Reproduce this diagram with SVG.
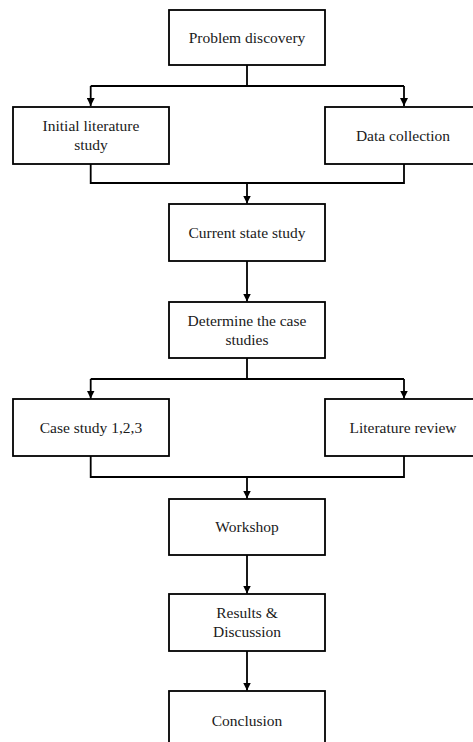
<svg xmlns="http://www.w3.org/2000/svg" width="473" height="742" viewBox="0 0 473 742">
<defs>
<style>
.box{fill:#fff;stroke:#000;stroke-width:1.8}
.ln{fill:none;stroke:#000;stroke-width:1.8}
.t{font-family:'Liberation Serif','Times New Roman','DejaVu Serif',serif;font-size:15.5px;fill:#1a1a1a;text-anchor:middle}
</style>
<marker id="ah" markerWidth="8" markerHeight="8" viewBox="0 0 8 8" refX="8" refY="4" orient="auto" markerUnits="userSpaceOnUse">
<path d="M0,0 L8,4 L0,8 Z" fill="#000"/>
</marker>
</defs>
<rect width="473" height="742" fill="#fff"/>
<g id="connectors">
<path class="ln" d="M247,65 V86 M90.7,86 H404"/>
<path class="ln" d="M90.7,86 V106" marker-end="url(#ah)"/>
<path class="ln" d="M404,86 V106" marker-end="url(#ah)"/>
<path class="ln" d="M90.7,164 V183 H404 V164"/>
<path class="ln" d="M247,183 V203.5" marker-end="url(#ah)"/>
<path class="ln" d="M247,261 V301.5" marker-end="url(#ah)"/>
<path class="ln" d="M247,358 V379 M90.7,379 H404"/>
<path class="ln" d="M90.7,379 V398.5" marker-end="url(#ah)"/>
<path class="ln" d="M404,379 V398.5" marker-end="url(#ah)"/>
<path class="ln" d="M90.7,456 V477 H404 V456"/>
<path class="ln" d="M247,477 V498.5" marker-end="url(#ah)"/>
<path class="ln" d="M247,555 V593.5" marker-end="url(#ah)"/>
<path class="ln" d="M247,651 V690.5" marker-end="url(#ah)"/>
</g>
<g class="t" font-family="'Liberation Serif', 'Times New Roman', serif">
<g id="problem-discovery"><rect class="box" x="169" y="10" width="156" height="55"/><text x="247" y="43">Problem discovery</text></g>
<g id="initial-literature-study"><rect class="box" x="13" y="107" width="156" height="57"/><text x="91" y="131">Initial literature</text><text x="91" y="150">study</text></g>
<g id="data-collection"><rect class="box" x="325" y="107" width="160" height="57"/><text x="403" y="141">Data collection</text></g>
<g id="current-state-study"><rect class="box" x="169" y="204" width="156" height="57"/><text x="247" y="238">Current state study</text></g>
<g id="determine-case-studies"><rect class="box" x="169" y="302" width="156" height="56"/><text x="247" y="326">Determine the case</text><text x="247" y="345">studies</text></g>
<g id="case-study"><rect class="box" x="13" y="399" width="156" height="57"/><text x="91" y="433">Case study 1,2,3</text></g>
<g id="literature-review"><rect class="box" x="325" y="399" width="160" height="57"/><text x="403" y="433">Literature review</text></g>
<g id="workshop"><rect class="box" x="169" y="499" width="156" height="56"/><text x="247" y="532">Workshop</text></g>
<g id="results-discussion"><rect class="box" x="169" y="594" width="156" height="57"/><text x="247" y="618">Results &amp;</text><text x="247" y="637">Discussion</text></g>
<g id="conclusion"><rect class="box" x="169" y="691" width="156" height="60"/><text x="247" y="726">Conclusion</text></g>
</g>
</svg>
